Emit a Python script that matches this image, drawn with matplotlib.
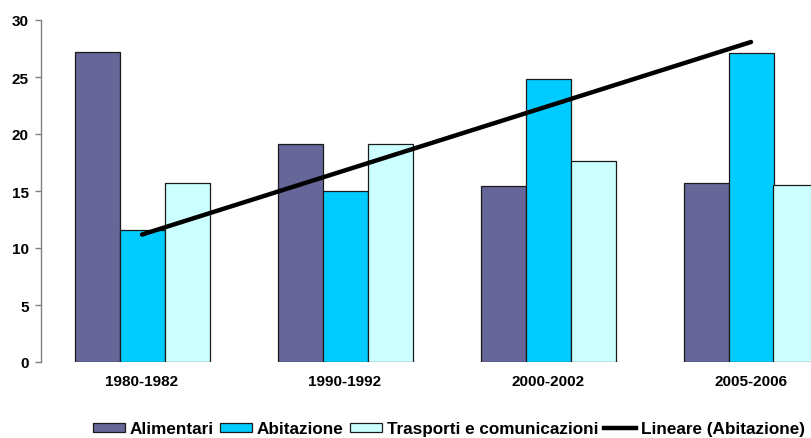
import numpy as np
import matplotlib
matplotlib.use("Agg")
import matplotlib.pyplot as plt
from matplotlib.lines import Line2D
from matplotlib.patches import Patch

plt.rcParams["font.family"] = ["Liberation Sans", "DejaVu Sans"]
plt.rcParams["font.weight"] = "bold"

periods = ["1980-1982", "1990-1992", "2000-2002", "2005-2006"]
alimentari = [27.2, 19.1, 15.4, 15.7]
abitazione = [11.6, 15.0, 24.8, 27.1]
trasporti = [15.7, 19.1, 17.6, 15.5]
yticks = [0, 5, 10, 15, 20, 25, 30]

series = [
    ("Alimentari", alimentari, "#666699"),
    ("Abitazione", abitazione, "#00CCFF"),
    ("Trasporti e comunicazioni", trasporti, "#CCFFFF"),
]

W, H = 811, 439
fig = plt.figure(figsize=(W / 100, H / 100), dpi=100)
left, right, top, bottom = 40.5, 852.5, 21, 363
ax = fig.add_axes([left / W, (H - bottom) / H, (right - left) / W, (bottom - top) / H])

x = np.arange(len(periods))
bw = 45 / 203
for i, (name, vals, col) in enumerate(series):
    ax.bar(x + (i - 1) * bw, vals, width=bw, color=col, edgecolor="#1a1a1a",
           linewidth=0.9, label=name, zorder=2)

# linear trend of Abitazione
coef = np.polyfit(x + 1, abitazione, 1)
trend = np.polyval(coef, x + 1)
ax.plot(x, trend, color="black", linewidth=3.2, solid_capstyle="round", zorder=3)

ax.set_xlim(-0.5, len(periods) - 0.5)
ax.set_ylim(0, 30)
ax.set_yticks(yticks)
ax.set_xticks(x)
ax.set_xticklabels(periods)
for s in ["top", "right", "bottom"]:
    ax.spines[s].set_visible(False)
ax.spines["left"].set_color("#808080")
ax.spines["left"].set_linewidth(1.0)
ax.tick_params(axis="y", direction="out", length=4, width=1, color="#808080",
               pad=4.5, labelsize=11)
ax.tick_params(axis="x", length=0, pad=9, labelsize=11)
for lab in ax.get_xticklabels() + ax.get_yticklabels():
    lab.set_fontweight("bold")

handles = [Patch(facecolor=c, edgecolor="#1a1a1a", linewidth=0.9) for _, _, c in series]
handles.append(Line2D([], [], color="black", linewidth=3.2))
labels = [n for n, _, _ in series] + ["Lineare (Abitazione)"]
fs = 12.3
px = fs * 100 / 72
fig.legend(handles, labels, loc="center", bbox_to_anchor=(449 / W, (H - 430) / H),
           ncol=4, frameon=False, handlelength=32 / px, handleheight=7 / px,
           handletextpad=5 / px, columnspacing=6 / px, borderpad=0,
           prop={"size": fs, "weight": "bold"})

fig.savefig("out.png", dpi=100)
